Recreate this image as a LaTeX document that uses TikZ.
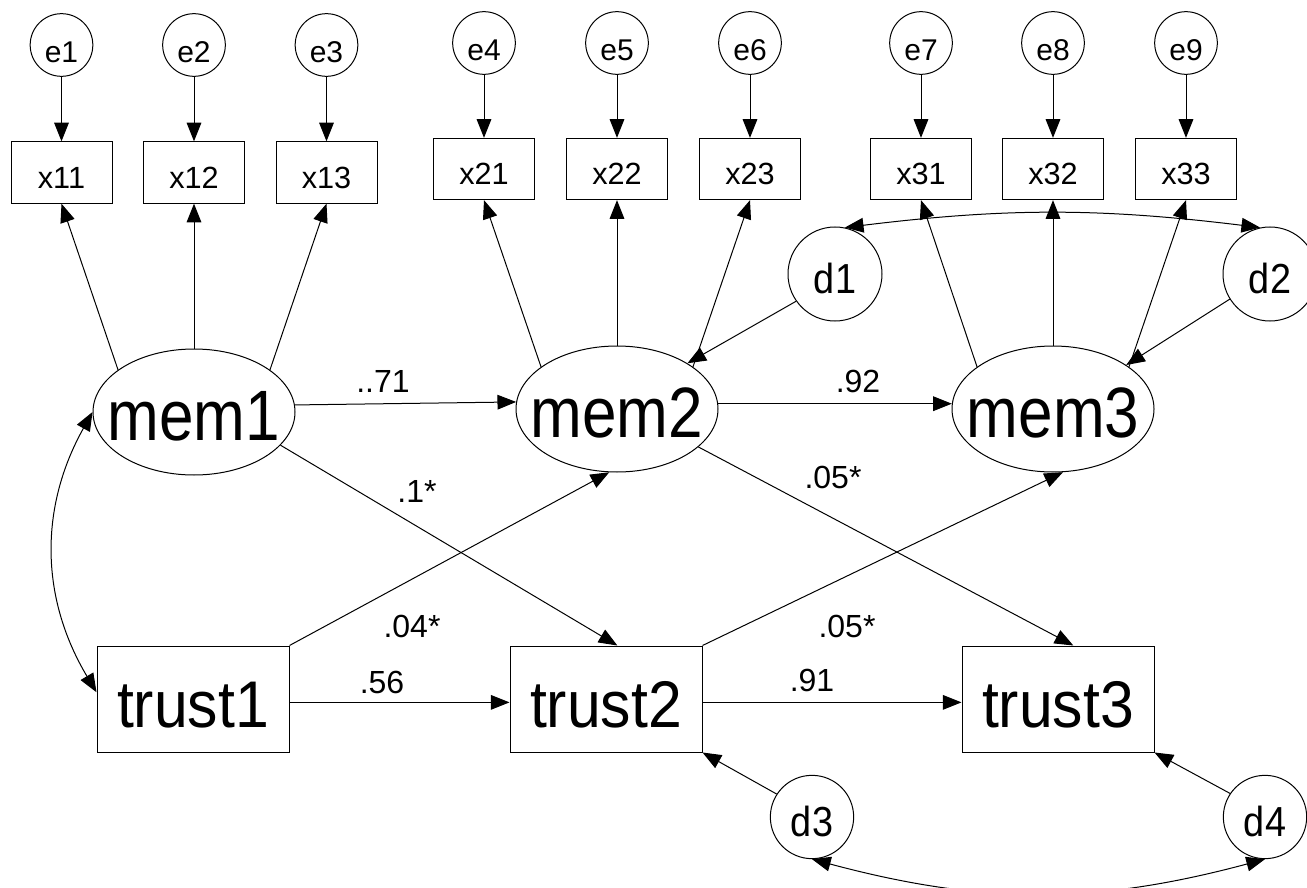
\documentclass[tikz,border=0pt]{standalone}
\usepackage{fontspec}
\setmainfont{Liberation Sans}
\newfontfamily\memfont[FakeStretch=0.87]{Liberation Sans}
\newfontfamily\trustfont[FakeStretch=0.92]{Liberation Sans}
\newfontfamily\dfont[FakeStretch=0.9]{Liberation Sans}
\usetikzlibrary{arrows.meta,shapes.geometric}

\begin{document}
\begin{tikzpicture}[x=0.75pt,y=-0.75pt,
  line width=0.75pt,
  >={Triangle[length=14pt,width=11pt]},
  errvar/.style={circle,draw,inner sep=0pt,minimum size=47pt,
    font=\fontsize{22.5}{24}\selectfont,text height=26pt,text depth=0pt},
  indic/.style={rectangle,draw,inner sep=0pt,minimum width=75.75pt,minimum height=46pt,
    font=\fontsize{23}{25}\selectfont,text height=24pt,text depth=0pt},
  disturb/.style={circle,draw,inner sep=0pt,minimum size=70.5pt,
    font=\dfont\fontsize{31.5}{34}\selectfont,text height=28.5pt,text depth=0pt},
  smalldist/.style={disturb,minimum size=62.5pt},
  latent/.style={ellipse,draw,inner sep=0pt,minimum width=151.5pt,minimum height=94.5pt,
    font=\memfont\fontsize{53.5}{57}\selectfont,text height=42.8pt,text depth=0pt},
  observed/.style={rectangle,draw,inner sep=0pt,minimum width=144pt,minimum height=79.5pt,
    font=\trustfont\fontsize{49.5}{53}\selectfont,text height=42.2pt,text depth=0pt},
  coef/.style={inner sep=0pt,font=\fontsize{24}{26}\selectfont}
]
\useasboundingbox (0,0) rectangle (1307,888);
\fill[white] (0,0) rectangle (1307,888);

% error terms
\node[errvar] (e1) at (61.5,45) {e1};
\node[errvar] (e2) at (194,45) {e2};
\node[errvar] (e3) at (326.5,45) {e3};
\node[errvar] (e4) at (484,43) {e4};
\node[errvar] (e5) at (617,43) {e5};
\node[errvar] (e6) at (750,43) {e6};
\node[errvar] (e7) at (921,43) {e7};
\node[errvar] (e8) at (1053,43) {e8};
\node[errvar] (e9) at (1186,43) {e9};

% indicators
\node[indic] (x11) at (61.5,172.5) {x11};
\node[indic] (x12) at (194,172.5) {x12};
\node[indic] (x13) at (326.5,172.5) {x13};
\node[indic] (x21) at (484,169) {x21};
\node[indic] (x22) at (617,169) {x22};
\node[indic] (x23) at (750,169) {x23};
\node[indic] (x31) at (921,169) {x31};
\node[indic] (x32) at (1053,169) {x32};
\node[indic] (x33) at (1186,169) {x33};

% latent factors
\node[latent] (mem1) at (194,412) {\makebox[0pt]{mem1}};
\node[latent] (mem2) at (617,409) {\makebox[0pt]{mem2}};
\node[latent] (mem3) at (1053,409) {\makebox[0pt]{mem3}};

% observed trust
\node[observed] (trust1) at (193,699) {trust1};
\node[observed] (trust2) at (606,699) {trust2};
\node[observed] (trust3) at (1058,699) {trust3};

% disturbances
\node[disturb] (d1) at (835,274) {d1};
\node[disturb] (d2) at (1270,274) {d2};
\node[smalldist] (d3) at (812,817) {d3};
\node[smalldist] (d4) at (1265,817) {d4};

% error paths
\foreach \i/\j in {e1/x11,e2/x12,e3/x13,e4/x21,e5/x22,e6/x23,e7/x31,e8/x32,e9/x33}
  \draw[->] (\i) -- (\j);

% loadings
\foreach \m/\a/\b/\c in {mem1/x11/x12/x13,mem2/x21/x22/x23,mem3/x31/x32/x33}{
  \draw[->] (\m.151) -- (\a.south);
  \draw[->] (\m.north) -- (\b.south);
  \draw[->] (\m.29) -- (\c.south);
}

% structural paths
\draw[->] (mem1.4) -- (mem2.176);
\draw[->] (mem2.3) -- (mem3.177);
\draw[->] (mem1.-21) -- (trust2.78);
\draw[->] (mem2.-25) -- (trust3.74);
\draw[->] (trust1.north east) -- (mem2.-97);
\draw[->] (trust2.north east) -- (mem3.-81);
\draw[->] (trust1.-2) -- (trust2.182);
\draw[->] (trust2.-2) -- (trust3.182);

% disturbance paths
\draw[->] (d1.215) -- (mem2.33);
\draw[->] (d2.212) -- (mem3.31);
\draw[->] (d3.147) -- (trust2.south east);
\draw[->] (d4.146) -- (trust3.south east);

% covariances
\draw[<->] (d1.78) to[bend left=7] (d2.102);
\draw[<->] (mem1.west) to[bend right=30] (trust1.176);
\draw[<->] (d3.south) to[bend right=15] (d4.south);

% coefficients
\node[coef] (c1) at (383,381) {..71};
\node[coef] (c2) at (858,381) {.92};
\node[coef] (c3) at (417,491) {.1*};
\node[coef] (c4) at (833,477) {.05*};
\node[coef] (c5) at (412,626) {.04*};
\node[coef] (c6) at (847,626) {.05*};
\node[coef] (c7) at (382,682) {.56};
\node[coef] (c8) at (812,680) {.91};
\end{tikzpicture}
\end{document}
